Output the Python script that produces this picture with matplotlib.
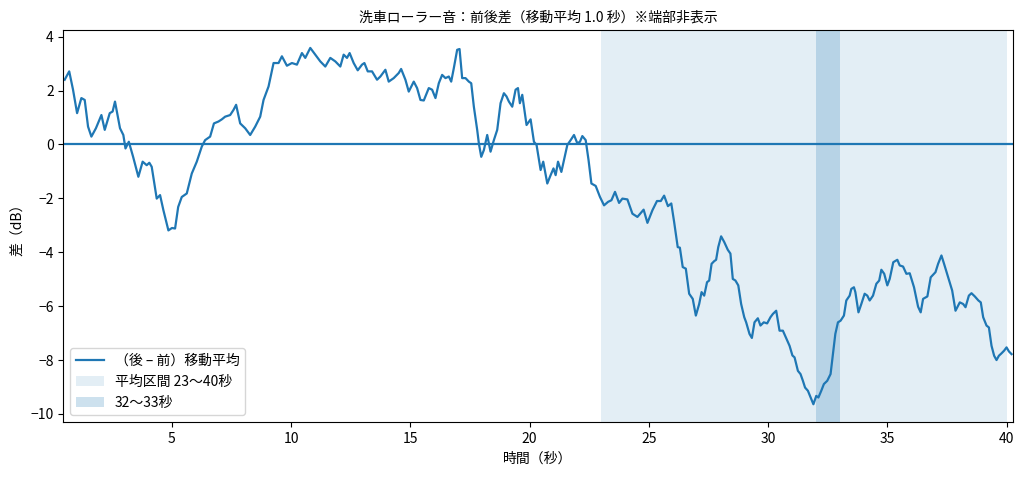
import matplotlib
matplotlib.use("Agg")
import matplotlib.pyplot as plt

plt.rcParams['font.family'] = ['Noto Sans CJK JP', 'DejaVu Sans']

title = "洗車ローラー音：前後差（移動平均 1.0 秒）※端部非表示"
line_label = "（後 – 前）移動平均"
span_label = "平均区間 23〜40秒"
band_label = "32〜33秒"

span = (23, 40)
band = (32, 33)

t = [0.50, 0.69, 0.85, 1.02, 1.20, 1.34, 1.48, 1.62, 1.81, 2.04, 2.18, 2.39, 2.51, 2.61,
     2.82, 2.96, 3.05, 3.19, 3.37, 3.59, 3.77, 3.94, 4.05, 4.15, 4.36, 4.50, 4.64, 4.85,
     5.00, 5.13, 5.26, 5.41, 5.62, 5.83, 6.04, 6.25, 6.39, 6.60, 6.76, 6.95, 7.09, 7.23,
     7.44, 7.58, 7.69, 7.86, 8.07, 8.28, 8.49, 8.70, 8.84, 9.05, 9.26, 9.47, 9.61, 9.82,
     10.03, 10.24, 10.45, 10.59, 10.80, 11.01, 11.22, 11.43, 11.64, 11.85, 12.06, 12.20,
     12.34, 12.45, 12.62, 12.79, 12.97, 13.07, 13.21, 13.39, 13.60, 13.74, 13.95, 14.09,
     14.30, 14.51, 14.61, 14.79, 14.93, 15.14, 15.28, 15.42, 15.56, 15.77, 15.91, 16.05,
     16.19, 16.33, 16.47, 16.61, 16.71, 16.82, 16.96, 17.06, 17.17, 17.31, 17.45, 17.55,
     17.66, 17.80, 17.87, 17.97, 18.08, 18.22, 18.36, 18.50, 18.64, 18.78, 18.92, 19.03,
     19.13, 19.27, 19.41, 19.51, 19.59, 19.69, 19.87, 20.04, 20.18, 20.29, 20.46, 20.57,
     20.74, 20.88, 21.00, 21.09, 21.19, 21.33, 21.47, 21.58, 21.72, 21.86, 22.00, 22.11,
     22.21, 22.35, 22.47, 22.59, 22.77, 22.95, 23.12, 23.29, 23.43, 23.58, 23.75, 23.89,
     24.10, 24.31, 24.52, 24.78, 24.94, 25.15, 25.34, 25.50, 25.64, 25.80, 25.94, 26.06,
     26.21, 26.30, 26.42, 26.55, 26.69, 26.84, 26.97, 27.11, 27.21, 27.32, 27.44, 27.53,
     27.63, 27.74, 27.82, 27.91, 28.03, 28.16, 28.31, 28.42, 28.52, 28.63, 28.75, 28.87,
     29.00, 29.08, 29.22, 29.32, 29.43, 29.57, 29.68, 29.82, 29.96, 30.10, 30.20, 30.34,
     30.48, 30.62, 30.76, 30.90, 31.02, 31.11, 31.25, 31.36, 31.46, 31.55, 31.67, 31.81,
     31.90, 32.02, 32.11, 32.23, 32.34, 32.48, 32.62, 32.72, 32.82, 32.93, 33.04, 33.18,
     33.28, 33.42, 33.49, 33.60, 33.66, 33.79, 33.91, 34.05, 34.16, 34.26, 34.40, 34.54,
     34.66, 34.75, 34.87, 35.00, 35.10, 35.25, 35.42, 35.52, 35.66, 35.80, 35.94, 36.12,
     36.29, 36.40, 36.50, 36.68, 36.82, 37.02, 37.13, 37.27, 37.38, 37.55, 37.72, 37.86,
     38.04, 38.18, 38.28, 38.42, 38.53, 38.67, 38.82, 38.92, 39.02, 39.16, 39.26, 39.37,
     39.48, 39.58, 39.68, 39.79, 39.90, 40.00, 40.10, 40.21]

diff_db = [2.40, 2.71, 2.03, 1.16, 1.72, 1.65, 0.66, 0.29, 0.60, 1.09, 0.54, 1.16, 1.22, 1.59,
           0.60, 0.35, -0.15, 0.10, -0.46, -1.20, -0.64, -0.77, -0.68, -0.83, -2.01, -1.88, -2.44, -3.19,
           -3.10, -3.12, -2.32, -1.95, -1.82, -1.08, -0.64, -0.08, 0.16, 0.29, 0.78, 0.85, 0.93, 1.03,
           1.09, 1.28, 1.47, 0.78, 0.60, 0.35, 0.66, 1.03, 1.65, 2.15, 3.02, 3.02, 3.27, 2.92,
           3.02, 2.96, 3.39, 3.21, 3.58, 3.33, 3.08, 2.89, 3.21, 3.08, 2.89, 3.33,
           3.21, 3.39, 3.02, 2.75, 2.96, 3.02, 2.71, 2.71, 2.40, 2.52, 2.77, 2.33,
           2.46, 2.65, 2.80, 2.40, 1.96, 2.33, 2.09, 1.65, 1.63, 2.09, 2.03, 1.72,
           2.27, 2.58, 2.46, 2.52, 2.33, 2.83, 3.51, 3.54, 2.46, 2.46, 2.33, 2.27,
           1.40, 0.54, 0.04, -0.46, -0.21, 0.35, -0.27, 0.16, 0.54, 1.53, 1.90, 1.78,
           1.59, 1.40, 2.03, 2.09, 1.53, 1.84, 0.72, 0.93, 0.10, -0.02, -0.95, -0.64,
           -1.45, -1.14, -0.89, -1.14, -0.64, -1.02, -0.46, -0.02, 0.16, 0.35, 0.04, 0.10,
           0.31, 0.16, -0.58, -1.45, -1.54, -1.95, -2.26, -2.13, -2.07, -1.76, -2.17, -2.01,
           -2.04, -2.57, -2.69, -2.42, -2.91, -2.44, -2.10, -2.10, -1.90, -2.29, -2.19, -2.88,
           -3.81, -3.83, -4.55, -4.61, -5.54, -5.73, -6.35, -5.92, -5.48, -5.61, -5.11, -5.05,
           -4.43, -4.33, -4.28, -3.81, -3.41, -3.62, -3.91, -4.05, -4.99, -5.05, -5.23, -5.92,
           -6.41, -6.60, -7.03, -7.18, -6.60, -6.45, -6.72, -6.60, -6.64, -6.41, -6.29, -6.17,
           -6.91, -6.91, -7.19, -7.47, -7.83, -7.90, -8.40, -8.52, -8.77, -9.02, -9.14, -9.45,
           -9.64, -9.33, -9.39, -9.14, -8.89, -8.77, -8.52, -7.78, -7.03, -6.60, -6.54, -6.35,
           -5.79, -5.61, -5.36, -5.30, -5.48, -6.23, -5.92, -5.54, -5.61, -5.79, -5.61, -5.17,
           -5.05, -4.65, -4.80, -5.23, -4.99, -4.37, -4.28, -4.49, -4.53, -4.80, -4.78, -5.30,
           -6.02, -6.23, -5.73, -5.64, -4.93, -4.74, -4.43, -4.12, -4.43, -4.93, -5.42, -6.17,
           -5.86, -5.92, -6.04, -5.61, -5.52, -5.64, -5.79, -5.86, -6.41, -6.72, -6.79, -7.47,
           -7.84, -8.00, -7.84, -7.75, -7.65, -7.53, -7.68, -7.78]

fig = plt.figure(figsize=(10.24, 4.78), dpi=100)
ax = fig.add_axes([0.062, 0.117, 0.927, 0.82])

ax.plot(t, diff_db, color='C0', lw=1.6, label=line_label)
ax.axhline(0, color='C0', lw=1.6)
ax.axvspan(span[0], span[1], color='C0', alpha=0.12, lw=0, label=span_label)
ax.axvspan(band[0], band[1], color='C0', alpha=0.22, lw=0, label=band_label)

ax.set_xlim(t[0] - 0.05, t[-1] + 0.05)
ax.set_title(title, fontsize=10)
ax.set_xlabel("時間（秒）", fontsize=10)
ax.set_ylabel("差（dB）", fontsize=10)
ax.tick_params(labelsize=10)
ax.legend(loc='lower left', fontsize=10)

fig.savefig("out.png")
